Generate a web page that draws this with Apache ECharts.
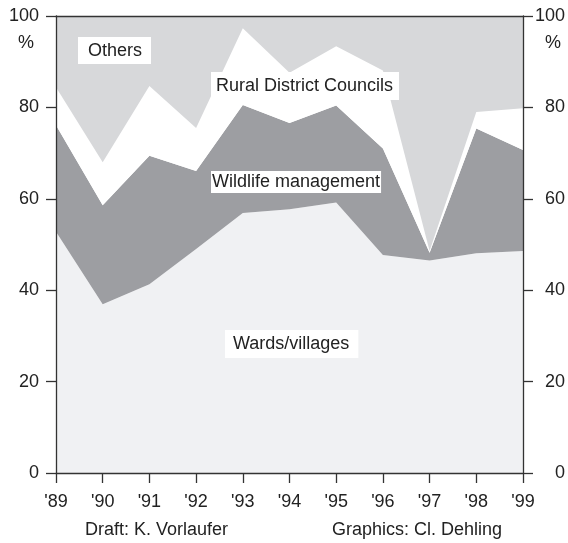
<!DOCTYPE html>
<html>
<head>
<meta charset="utf-8">
<script src="https://cdn.jsdelivr.net/npm/echarts@6/dist/echarts.min.js"></script>
<style>
  html, body { margin: 0; padding: 0; background: #fff; }
  #main { width: 568px; height: 543px; }
</style>
</head>
<body>
<div id="main"></div>
<script>
// years along the bottom
var years = ["'89", "'90", "'91", "'92", "'93", "'94", "'95", "'96", "'97", "'98", "'99"];
// shares in %, stacked from the bottom up
var wards = [52.8, 36.9, 41.3, 49.0, 56.9, 57.7, 59.2, 47.7, 46.5, 48.1, 48.6];
var wildlife = [23.3, 21.7, 28.1, 17.1, 23.6, 18.9, 21.2, 23.3, 1.7, 27.3, 22.1];
var councils = [8.3, 9.4, 15.3, 9.4, 16.8, 11.0, 13.0, 17.1, 0.4, 3.6, 9.1];
var others = [15.6, 32.0, 15.3, 24.5, 2.7, 12.4, 6.6, 11.9, 51.4, 21.0, 20.2];
var yTicks = [0, 20, 40, 60, 80, 100];

var font = 'Liberation Sans, Arial, sans-serif';
var ink = '#222';

function layer(name, data, color) {
    return {
        name: name,
        type: 'line',
        stack: 'total',
        data: data,
        symbol: 'none',
        lineStyle: { width: 0 },
        areaStyle: { color: color, opacity: 1 },
        emphasis: { disabled: true },
        silent: true
    };
}

function yAxis(pos) {
    return {
        type: 'value',
        position: pos,
        min: yTicks[0],
        max: yTicks[yTicks.length - 1],
        interval: 20,
        z: 10,
        axisLine: { show: true, onZero: false, lineStyle: { color: '#333', width: 1.3 } },
        axisTick: { show: true, length: 10, lineStyle: { color: '#333', width: 1.3 } },
        splitLine: { show: false },
        axisLabel: {
            color: ink, fontSize: 18, fontFamily: font,
            align: 'right',
            margin: pos === 'left' ? 17 : 42
        }
    };
}

var chart = echarts.init(document.getElementById('main'));
chart.setOption({
    animation: false,
    grid: { left: 56, right: 42, top: 16, bottom: 70 },
    xAxis: [{
        type: 'category',
        data: years,
        boundaryGap: false,
        z: 10,
        axisLine: { onZero: false, lineStyle: { color: '#333', width: 1.3 } },
        axisTick: { length: 10, alignWithLabel: true, lineStyle: { color: '#333', width: 1.3 } },
        axisLabel: { color: ink, fontSize: 18, fontFamily: font, margin: 20 }
    }, {
        type: 'category',
        data: years,
        position: 'top',
        boundaryGap: false,
        z: 10,
        axisLine: { onZero: false, lineStyle: { color: '#333', width: 1.3 } },
        axisTick: { show: false },
        axisLabel: { show: false }
    }],
    yAxis: [yAxis('left'), yAxis('right')],
    series: [
        layer('Wards/villages', wards, '#f0f1f3'),
        layer('Wildlife management', wildlife, '#9d9ea2'),
        layer('Rural District Councils', councils, '#ffffff'),
        layer('Others', others, '#d7d8da')
    ],
    graphic: [
        { type: 'text', left: 18, top: 34, z: 20, style: { text: '%', font: '18px ' + font, fill: ink } },
        { type: 'text', left: 545, top: 34, z: 20, style: { text: '%', font: '18px ' + font, fill: ink } },
        { type: 'text', left: 78, top: 37, z: 20, style: { text: 'Others', font: '18px ' + font, fill: ink,
            backgroundColor: '#fff', padding: [5, 9, 4, 10] } },
        { type: 'text', left: 211, top: 72, z: 20, style: { text: 'Rural District Councils', font: '18px ' + font, fill: ink,
            backgroundColor: '#fff', padding: [5, 6, 5, 5] } },
        { type: 'text', left: 211, top: 171, z: 20, style: { text: 'Wildlife management', font: '18px ' + font, fill: ink,
            backgroundColor: '#fff', padding: [2, 1, 2, 1] } },
        { type: 'text', left: 225, top: 330, z: 20, style: { text: 'Wards/villages', font: '18px ' + font, fill: ink,
            backgroundColor: '#fff', padding: [5, 9, 5, 8] } },
        { type: 'text', left: 85, top: 521, z: 20, style: { text: 'Draft: K. Vorlaufer', font: '18px ' + font, fill: ink } },
        { type: 'text', left: 332, top: 521, z: 20, style: { text: 'Graphics: Cl. Dehling', font: '18px ' + font, fill: ink } }
    ]
});
</script>
</body>
</html>
